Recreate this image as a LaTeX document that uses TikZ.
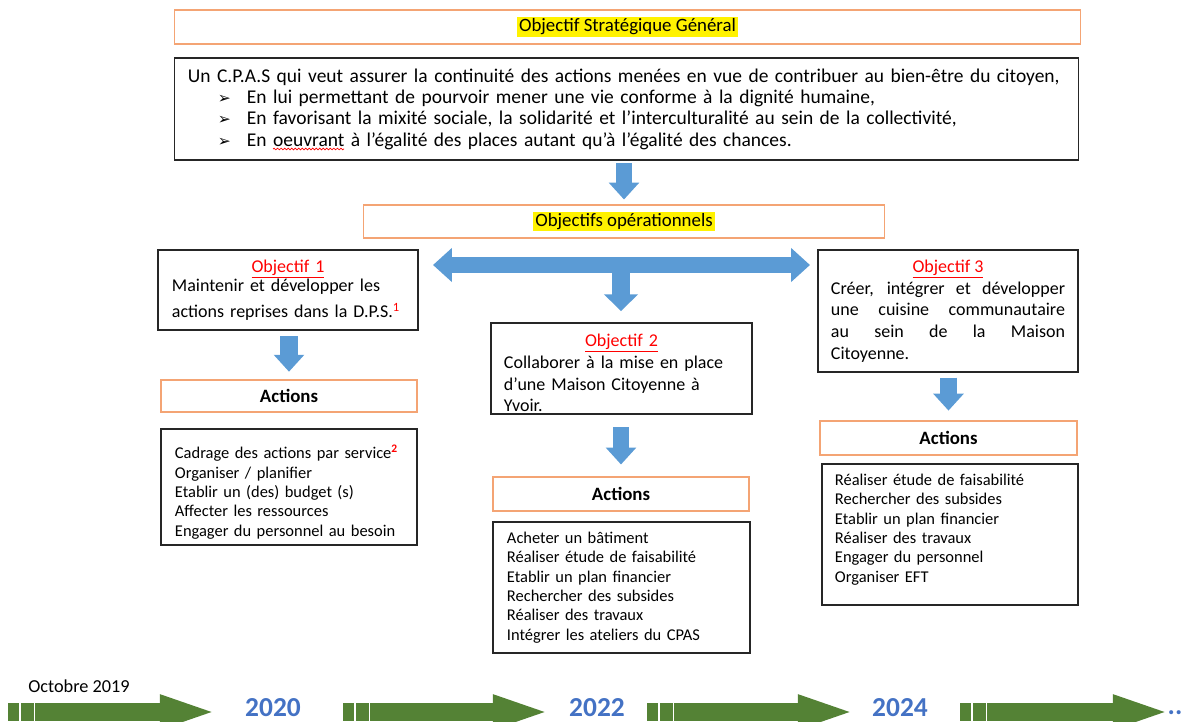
\documentclass[tikz,border=0pt]{standalone}
\usepackage{fontspec}
\setmainfont{Carlito}
\newfontfamily\symfont{DejaVu Sans}
\usepackage{tikz}
\usetikzlibrary{arrows.meta,decorations.pathmorphing}

\definecolor{boxorange}{RGB}{244,164,116}
\definecolor{arrowblue}{RGB}{91,155,213}
\definecolor{timegreen}{RGB}{84,130,53}
\definecolor{yearblue}{RGB}{68,114,196}

\newcommand{\mainsize}{\fontsize{13.85}{15.2}\selectfont}
\newcommand{\titlesize}{\fontsize{13.4}{15}\selectfont}
\newcommand{\objsize}{\fontsize{12.8}{15.4}\selectfont}
\newcommand{\listsize}{\fontsize{11.7}{13.8}\selectfont}
\newcommand{\hlyellow}[1]{{\setlength{\fboxsep}{1.3pt}\colorbox{yellow}{#1}}}
\newcommand{\objtitle}[1]{\hfill\textcolor{red}{\underline{#1}}\hfill\null}
\newcommand{\redsup}[1]{\textsuperscript{\textcolor{red}{#1}}}
\newcommand{\puce}{\hspace*{0.75cm}\makebox[0.725cm][l]{\symfont\fontsize{11}{11}\selectfont\char"27A2}}

\tikzset{
  orangebox/.style={draw=boxorange, line width=0.8pt, minimum height=0.85cm, inner sep=0pt, font=\titlesize},
  blackbox/.style={draw=black!85, line width=0.8pt, inner ysep=0pt},
  bluearrow/.style={arrowblue, line width=11.5pt, -{Triangle[length=12pt,width=21pt]}},
  greenarrow/.style={timegreen, line width=12.8pt, -{Triangle[length=42pt,width=21.3pt]}},
  gapline/.style={white, line width=0.8pt},
  spellmark/.style={red, line width=0.5pt, decorate, decoration={snake, amplitude=0.6pt, segment length=2.5pt}},
  yearlabel/.style={font=\fontsize{19.5}{21}\selectfont\bfseries, text=yearblue, inner sep=0pt},
}

\begin{document}
\begin{tikzpicture}[x=0.025cm, y=-0.025cm]
\useasboundingbox (0,0) rectangle (1185,722);

% objectif general
\node[orangebox, minimum width=22.625cm] (strat) at (627.5,27) {\hlyellow{Objectif Stratégique Général}};
\node[blackbox, minimum height=2.55cm, text width=21.925cm, inner xsep=0.325cm, align=left, font=\mainsize] (cpas) at (626.5,109)
  {Un C.P.A.S qui veut assurer la continuité des actions menées en vue de contribuer au bien-être du citoyen,\\
   \puce En lui permettant de pourvoir mener une vie conforme à la dignité humaine,\\
   \puce En favorisant la mixité sociale, la solidarité et l’interculturalité au sein de la collectivité,\\
   \puce En oeuvrant à l’égalité des places autant qu’à l’égalité des chances.};
\draw[spellmark] (273,149) -- (344,149);
\node[orangebox, minimum width=13cm, minimum height=0.825cm] (ops) at (624,221.5) {\hlyellow{Objectifs opérationnels}};
\draw[bluearrow, shorten <=2pt, shorten >=3.5pt] (ops.north |- cpas.south) -- (ops.north);

% objectifs operationnels
\node[blackbox, minimum width=6.5cm, minimum height=2cm, text width=5.8cm, inner xsep=0.35cm, align=left, font=\objsize] (obj1) at (288,290)
  {\objtitle{Objectif 1}\\[-1.5pt]
   Maintenir et développer les\\[2.5pt]
   actions reprises dans la D.P.S.\redsup{1}};
\node[blackbox, minimum width=6.525cm, minimum height=2.275cm, text width=5.875cm, inner xsep=0.325cm, align=left, font=\objsize] (obj2) at (621.5,368.5)
  {\rule{0pt}{15.3pt}\objtitle{Objectif 2}\\
   Collaborer à la mise en place\\
   d’une Maison Citoyenne à\\
   Yvoir.};
\node[blackbox, minimum width=6.5cm, minimum height=3.05cm, text width=5.85cm, inner xsep=0.325cm, align=justify, font=\objsize] (obj3) at (948,311)
  {\objtitle{Objectif 3}\\
   Créer, intégrer et développer\linebreak
   une cuisine communautaire\linebreak
   au sein de la Maison\linebreak
   Citoyenne.};

\coordinate (hleft) at (433,265);
\coordinate (hright) at (810,265);
\coordinate (hmid) at (621,265);
\draw[bluearrow, line width=11.5pt, {Triangle[length=13.5pt,width=23.5pt]}-{Triangle[length=13.5pt,width=23.5pt]}] (hleft) -- (hright);
\draw[bluearrow, line width=12.8pt, -{Triangle[length=12pt,width=23.5pt]}, shorten >=8pt] (hmid) -- (hmid |- obj2.north);

% actions
\node[orangebox, minimum width=6.4cm, minimum height=0.8cm, font=\titlesize\bfseries] (act1) at (289,396) {Actions};
\node[orangebox, minimum width=6.4cm, font=\titlesize\bfseries] (act2) at (621,494) {Actions};
\node[orangebox, minimum width=6.425cm, font=\titlesize\bfseries] (act3) at (948.5,438) {Actions};
\draw[bluearrow, line width=12.5pt, shorten <=4pt, shorten >=5.5pt] (act1.north |- obj1.south) -- (act1.north);
\draw[bluearrow, shorten <=9pt, shorten >=8.5pt] (act2.north |- obj2.south) -- (act2.north);
\draw[bluearrow, shorten <=3.5pt, shorten >=7pt] (act3.north |- obj3.south) -- (act3.north);

\node[blackbox, minimum width=6.4cm, minimum height=2.9cm, text width=5.7cm, inner xsep=0.35cm, align=left, font=\listsize] (list1) at (289,487)
  {\rule{0pt}{17pt}Cadrage des actions par service\redsup{\textbf{2}}\\
   Organiser / planifier\\
   Etablir un (des) budget (s)\\
   Affecter les ressources\\
   Engager du personnel au besoin};
\node[blackbox, minimum width=6.425cm, minimum height=3.275cm, text width=5.725cm, inner xsep=0.35cm, align=left, font=\listsize] (list2) at (621.5,587.5)
  {Acheter un bâtiment\\
   Réaliser étude de faisabilité\\
   Etablir un plan financier\\
   Rechercher des subsides\\
   Réaliser des travaux\\
   Intégrer les ateliers du CPAS};
\node[blackbox, minimum width=6.4cm, minimum height=3.525cm, text width=5.75cm, inner xsep=0.325cm, align=left, font=\listsize] (list3) at (950,534.5)
  {Réaliser étude de faisabilité\\
   Rechercher des subsides\\
   Etablir un plan financier\\
   Réaliser des travaux\\
   Engager du personnel\\
   Organiser EFT\rule[-9pt]{0pt}{0pt}};

% ligne du temps
\node[font=\fontsize{13}{15}\selectfont, inner sep=0pt] (oct) at (79,686) {Octobre 2019};
\node[yearlabel] (y2020) at (273,708) {2020};
\node[yearlabel] (y2022) at (597,708) {2022};
\node[yearlabel] (y2024) at (900,708) {2024};
\node[yearlabel] (ydots) at (1175,713) {..};
\coordinate (t1s) at (8,712);   \coordinate (t1e) at (219,712);
\coordinate (t2s) at (343,712); \coordinate (t2e) at (552,712);
\coordinate (t3s) at (647,712); \coordinate (t3e) at (857,712);
\coordinate (t4s) at (960,712); \coordinate (t4e) at (1172,712);
\draw[greenarrow] (t1s) -- (t1e);
\draw[greenarrow] (t2s) -- (t2e);
\draw[greenarrow] (t3s) -- (t3e);
\draw[greenarrow] (t4s) -- (t4e);
\draw[gapline] ([xshift=8.5pt,yshift=6.4pt]t1s) -- ([xshift=8.5pt,yshift=-6.4pt]t1s);
\draw[gapline] ([xshift=19pt,yshift=6.4pt]t1s) -- ([xshift=19pt,yshift=-6.4pt]t1s);
\draw[gapline] ([xshift=8.5pt,yshift=6.4pt]t2s) -- ([xshift=8.5pt,yshift=-6.4pt]t2s);
\draw[gapline] ([xshift=19pt,yshift=6.4pt]t2s) -- ([xshift=19pt,yshift=-6.4pt]t2s);
\draw[gapline] ([xshift=8.5pt,yshift=6.4pt]t3s) -- ([xshift=8.5pt,yshift=-6.4pt]t3s);
\draw[gapline] ([xshift=19pt,yshift=6.4pt]t3s) -- ([xshift=19pt,yshift=-6.4pt]t3s);
\draw[gapline] ([xshift=8.5pt,yshift=6.4pt]t4s) -- ([xshift=8.5pt,yshift=-6.4pt]t4s);
\draw[gapline] ([xshift=19pt,yshift=6.4pt]t4s) -- ([xshift=19pt,yshift=-6.4pt]t4s);
\end{tikzpicture}
\end{document}
